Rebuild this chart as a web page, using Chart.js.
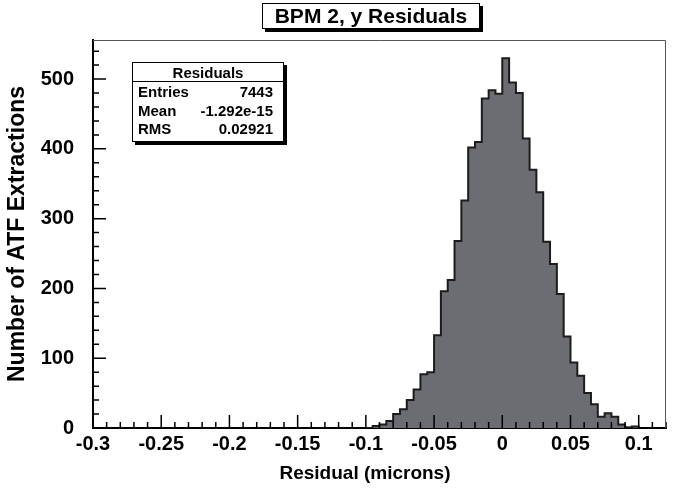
<!DOCTYPE html>
<html>
<head>
<meta charset="utf-8">
<script src="https://cdn.jsdelivr.net/npm/chart.js@4"></script>
<style>
  html, body { margin: 0; padding: 0; background: #fff; }
  #wrap { position: relative; width: 676px; height: 489px; }
  .box {
    position: absolute; box-sizing: border-box; background: #fff;
    border: 1px solid #000; box-shadow: 3px 3px 0 #000;
    font-family: "Liberation Sans", Arial, sans-serif; font-weight: bold; color: #000;
  }
  #title { left: 262px; top: 3px; width: 218px; height: 26px; font-size: 21px; line-height: 24px; text-align: center; }
  #stats { left: 132px; top: 62px; width: 152px; height: 80px; font-size: 15px; }
  #stats .head { text-align: center; height: 18px; line-height: 19px; border-bottom: 1px solid #000; }
  #stats .row { display: flex; justify-content: space-between; height: 18.5px; line-height: 19px; padding: 0 10px 0 5px; }
  #xtitle { position: absolute; left: 255px; top: 462px; width: 220px; text-align: center;
            font-family: "Liberation Sans", Arial, sans-serif; font-weight: bold; font-size: 19px; color: #000; }
</style>
</head>
<body>
<div id="wrap">
  <canvas id="hist" width="676" height="489"></canvas>
  <div class="box" id="title"></div>
  <div class="box" id="stats"></div>
  <div id="xtitle"></div>
</div>
<script>
// histogramme: bins de 0.005 a partir de -0.1
var binStart = -0.1;
var binWidth = 0.005;
var counts = [0, 3, 5, 10, 20, 27, 40, 55, 77, 80, 133, 196, 212, 268, 326, 402, 410, 472, 484, 479,
              530, 495, 480, 415, 370, 338, 267, 235, 192, 131, 94, 75, 50, 34, 16, 21, 16, 5, 1, 2];
var xTicks = [-0.3, -0.25, -0.2, -0.15, -0.1, -0.05, 0, 0.05, 0.1];
var yTicks = [0, 100, 200, 300, 400, 500];
var histName = 'Residuals';
var statNames = ['Entries', 'Mean', 'RMS'];
var statValues = ['7443', '-1.292e-15', '0.02921'];
var titleText = 'BPM 2, y Residuals';
var xTitle = 'Residual (microns)';
var yTitle = 'Number of ATF Extractions';

document.getElementById('title').textContent = titleText;
document.getElementById('xtitle').textContent = xTitle;
var statsHtml = '<div class="head">' + histName + '</div>';
for (var s = 0; s < statNames.length; s++) {
  statsHtml += '<div class="row"><span>' + statNames[s] + '</span><span>' + statValues[s] + '</span></div>';
}
document.getElementById('stats').innerHTML = statsHtml;

// points en escalier
var pts = [{ x: binStart, y: 0 }];
for (var i = 0; i < counts.length; i++) {
  pts.push({ x: binStart + i * binWidth, y: counts[i] });
}
pts.push({ x: binStart + counts.length * binWidth, y: 0 });

var font = { family: 'Liberation Sans', weight: 'bold', size: 20 };

// petits traits vers l'interieur comme ROOT
var innerTicks = {
  id: 'innerTicks',
  afterDatasetsDraw: function (chart) {
    var c = chart.ctx, a = chart.chartArea;
    var xs = chart.scales.x, ys = chart.scales.y;
    c.save();
    c.strokeStyle = '#000';
    c.lineWidth = 1.5;
    c.beginPath();
    for (var k = -30; k <= 12; k++) {
      var px = xs.getPixelForValue(k / 100);
      var len = (k % 5 === 0) ? 13 : 6;
      c.moveTo(px, a.bottom);
      c.lineTo(px, a.bottom - len);
    }
    for (var v = 0; v <= 540; v += 20) {
      var py = ys.getPixelForValue(v);
      var l2 = (v % 100 === 0) ? 13 : 6;
      c.moveTo(a.left, py);
      c.lineTo(a.left + l2, py);
    }
    c.stroke();
    c.strokeStyle = '#555';
    c.lineWidth = 1;
    c.beginPath();
    c.moveTo(a.left, a.top + 0.5);
    c.lineTo(a.right - 0.5, a.top + 0.5);
    c.lineTo(a.right - 0.5, a.bottom);
    c.stroke();
    c.restore();
  }
};

var ctx = document.getElementById('hist').getContext('2d');
var chart = new Chart(ctx, {
  type: 'line',
  data: {
    datasets: [{
      data: pts,
      stepped: true,
      fill: 'origin',
      backgroundColor: '#6c6d72',
      borderColor: '#1c1c1c',
      borderWidth: 2,
      pointRadius: 0
    }]
  },
  options: {
    responsive: false,
    animation: false,
    layout: { padding: { top: 40, right: 10, left: 0, bottom: 0 } },
    plugins: { legend: { display: false }, tooltip: { enabled: false } },
    scales: {
      x: {
        type: 'linear',
        min: -0.3,
        max: 0.12,
        afterFit: function (s) { s.height = 61; },
        afterBuildTicks: function (s) { s.ticks = xTicks.map(function (v) { return { value: v }; }); },
        grid: { display: false },
        border: { display: true, color: '#000', width: 2 },
        ticks: { font: font, color: '#000', padding: -4, maxRotation: 0, autoSkip: false,
                 callback: function (v) { return String(v); } }
      },
      y: {
        min: 0,
        max: 556,
        afterFit: function (s) { s.width = 93; },
        afterBuildTicks: function (s) { s.ticks = yTicks.map(function (v) { return { value: v }; }); },
        grid: { display: false },
        border: { display: true, color: '#000', width: 2 },
        ticks: { font: font, color: '#000', padding: 11 },
        title: { display: true, text: yTitle, color: '#000',
                 font: { family: 'Liberation Sans', weight: 'bold', size: 23 }, padding: { top: 4, bottom: 0 } }
      }
    }
  },
  plugins: [innerTicks]
});
</script>
</body>
</html>
